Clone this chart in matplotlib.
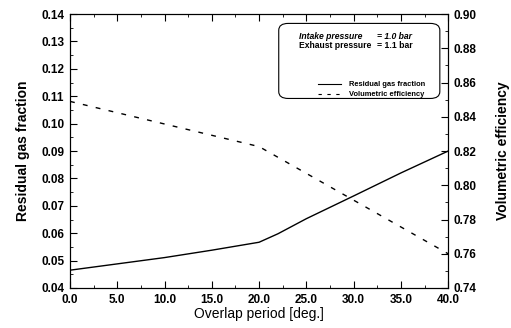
import matplotlib
matplotlib.use("Agg")
import matplotlib.pyplot as plt
from matplotlib.ticker import MultipleLocator, FormatStrFormatter
from matplotlib.lines import Line2D
from matplotlib.patches import FancyBboxPatch

overlap = [0, 5, 10, 15, 20, 22, 25, 30, 35, 40]
residual = [0.0465, 0.0488, 0.0511, 0.0538, 0.0567, 0.0598, 0.0653, 0.0736, 0.0820, 0.0900]
vol_x = [0, 20, 40]
vol_eff = [0.849, 0.8226, 0.760]

plt.rcParams['font.family'] = ['Liberation Sans', 'DejaVu Sans']

fig = plt.figure(figsize=(5.11, 3.28), dpi=100)
ax = fig.add_axes([0.137, 0.122, 0.740, 0.835])
ax2 = ax.twinx()

ax.plot(overlap, residual, color='black', lw=1.0)
ax2.plot(vol_x, vol_eff, color='black', lw=1.0, dashes=(3.5, 6))

ax.set_xlim(0, 40)
ax.set_ylim(0.04, 0.14)
ax2.set_ylim(0.74, 0.90)

ax.xaxis.set_major_locator(MultipleLocator(5))
ax.xaxis.set_minor_locator(MultipleLocator(2.5))
ax.xaxis.set_major_formatter(FormatStrFormatter('%.1f'))
ax.yaxis.set_major_locator(MultipleLocator(0.01))
ax.yaxis.set_minor_locator(MultipleLocator(0.005))
ax.yaxis.set_major_formatter(FormatStrFormatter('%.2f'))
ax2.yaxis.set_major_locator(MultipleLocator(0.02))
ax2.yaxis.set_minor_locator(MultipleLocator(0.01))
ax2.yaxis.set_major_formatter(FormatStrFormatter('%.2f'))

for a in (ax, ax2):
    a.tick_params(which='both', direction='in', top=False)
    a.tick_params(which='major', length=5, width=0.8, labelsize=8.5, pad=4)
    a.tick_params(which='minor', length=2.5, width=0.6)
    for lab in a.get_xticklabels() + a.get_yticklabels():
        lab.set_fontweight('bold')
ax.tick_params(axis='x', which='both', top=True)

ax.set_xlabel('Overlap period [deg.]', fontsize=10, labelpad=1)
ax.set_ylabel('Residual gas fraction', fontsize=10, fontweight='bold', labelpad=8)
ax2.set_ylabel('Volumetric efficiency', fontsize=10, fontweight='bold', labelpad=14)

# legend box
box = FancyBboxPatch((0.552, 0.692), 0.426, 0.274, boxstyle='round,pad=0,rounding_size=0.025',
                     transform=ax.transAxes, facecolor='white', edgecolor='black', lw=0.8, zorder=5)
ax.add_patch(box)
ax.text(0.606, 0.918, 'Intake pressure', transform=ax.transAxes, fontsize=6.2,
        fontweight='bold', style='italic', va='center', zorder=6)
ax.text(0.812, 0.918, '= 1.0 bar', transform=ax.transAxes, fontsize=6.2,
        fontweight='bold', style='italic', va='center', zorder=6)
ax.text(0.606, 0.885, 'Exhaust pressure', transform=ax.transAxes, fontsize=6.2,
        fontweight='bold', va='center', zorder=6)
ax.text(0.812, 0.885, '= 1.1 bar', transform=ax.transAxes, fontsize=6.2,
        fontweight='bold', va='center', zorder=6)
ax.add_line(Line2D([0.656, 0.717], [0.743, 0.743], transform=ax.transAxes, color='black', lw=0.8, zorder=6))
ax.add_line(Line2D([0.656, 0.717], [0.707, 0.707], transform=ax.transAxes, color='black', lw=0.8,
                   dashes=(3, 5), zorder=6))
ax.text(0.738, 0.743, 'Residual gas fraction', transform=ax.transAxes, fontsize=5.4,
        fontweight='bold', va='center', zorder=6)
ax.text(0.738, 0.707, 'Volumetric efficiency', transform=ax.transAxes, fontsize=5.4,
        fontweight='bold', va='center', zorder=6)

fig.savefig('out.png', dpi=100)
